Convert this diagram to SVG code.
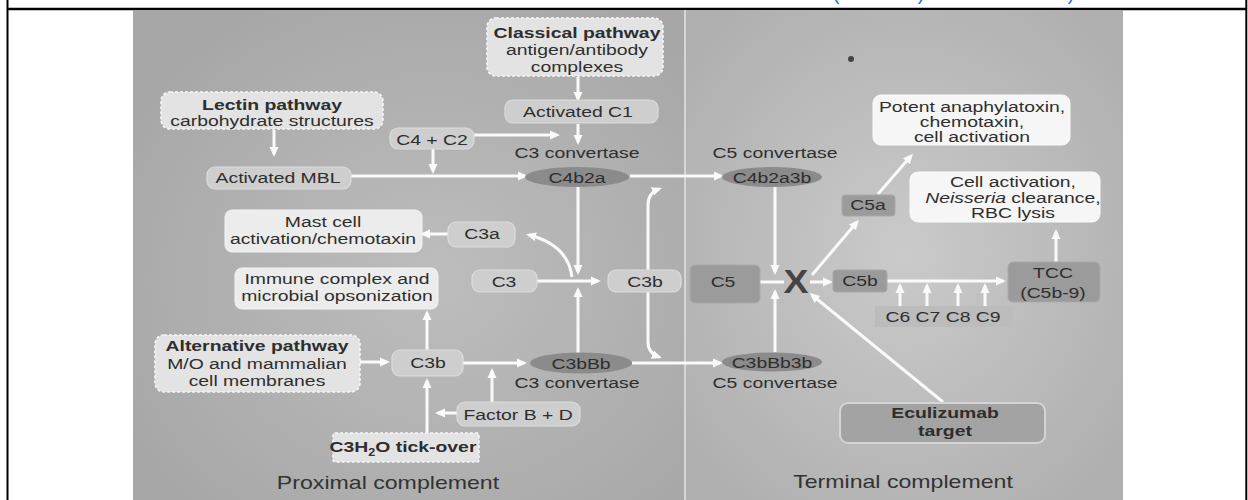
<svg xmlns="http://www.w3.org/2000/svg" width="1248" height="500" viewBox="0 0 1248 500">
<style>
text{font-family:"Liberation Sans",Arial,Helvetica,sans-serif;fill:#2e2e2e;font-size:15.5px;text-anchor:middle}
.b{font-weight:bold}
.big{font-size:18.5px;fill:#333}
.x{font-size:34px;font-weight:bold;fill:#444}
.dash{fill:#e3e3e3;stroke:#f6f6f6;stroke-width:1.6;stroke-dasharray:3 2}
.lt{fill:#cecece;stroke:#dcdcdc;stroke-width:1.2}
.wh{fill:#ececec;stroke:#f4f4f4;stroke-width:1}
.wh2{fill:#f6f6f6;stroke:#fafafa;stroke-width:1}
.dk{fill:#9b9b9b;stroke:#a9a9a9;stroke-width:1}
.mid{fill:#bcbcbc}
.ecu{fill:#a3a3a3;stroke:#d4d4d4;stroke-width:2}
.el{fill:#8b8b8b}
.c{fill:none;stroke:#fafafa;stroke-width:3}
.a{marker-end:url(#ah)}
.blue{fill:#2a6fd6;font-size:20px}
</style>
<defs>
<marker id="ah" viewBox="0 0 10 10" refX="7" refY="5" markerWidth="10" markerHeight="10" markerUnits="userSpaceOnUse" orient="auto-start-reverse">
<path d="M0,0.5 L10,5 L0,9.5 Z" fill="#fafafa"/>
</marker>
<radialGradient id="gl" cx="0.55" cy="0.55" r="0.65">
<stop offset="0" stop-color="#bdbdbd"/>
<stop offset="1" stop-color="#a7a7a7"/>
</radialGradient>
<radialGradient id="gr" cx="0.5" cy="0.5" r="0.65">
<stop offset="0" stop-color="#cacaca"/>
<stop offset="1" stop-color="#afafaf"/>
</radialGradient>
</defs>
<rect width="1248" height="500" fill="#ffffff"/>
<g id="frame">
<line x1="7.5" y1="0" x2="7.5" y2="500" stroke="#000" stroke-width="2"/>
<line x1="1246.3" y1="0" x2="1246.3" y2="500" stroke="#000" stroke-width="2"/>
<line x1="7" y1="9" x2="1247" y2="9" stroke="#000" stroke-width="2.5"/>
<text class="blue" x="836" y="0">(</text>
<text class="blue" x="921" y="0">)</text>
<text class="blue" x="1071" y="0">)</text>
</g>
<g id="panels">
<rect x="133" y="10" width="551" height="490" fill="url(#gl)"/>
<rect x="686" y="10" width="437" height="490" fill="url(#gr)"/>
<line x1="685" y1="10" x2="685" y2="500" stroke="#d6d6d6" stroke-width="2"/>
<circle cx="851" cy="59" r="3" fill="#444"/>
</g>
<g id="connectors">
<line class="c a" x1="578" y1="77" x2="578" y2="99"/>
<line class="c a" x1="578" y1="124" x2="578" y2="142"/>
<line class="c a" x1="474" y1="135" x2="557" y2="135"/>
<line class="c a" x1="433" y1="149" x2="433" y2="171"/>
<line class="c a" x1="274" y1="130" x2="274" y2="154"/>
<line class="c a" x1="351" y1="176" x2="525" y2="176"/>
<line class="c a" x1="630" y1="176" x2="721" y2="176"/>
<line class="c a" x1="578" y1="187" x2="578" y2="272"/>
<line class="c a" x1="578" y1="353" x2="578" y2="290"/>
<line class="c a" x1="537" y1="281" x2="598" y2="281"/>
<path class="c a" d="M572 277 Q568 245 529 235"/>
<line class="c a" x1="448" y1="234" x2="423" y2="234"/>
<path class="c a" d="M659 189 Q648 193 648 205 L648 342 Q648 353 659 357" style="marker-start:url(#ah)"/>
<line class="c" x1="760" y1="282" x2="784" y2="282"/>
<line class="c a" x1="775" y1="187" x2="775" y2="272"/>
<line class="c a" x1="775" y1="352" x2="775" y2="292"/>
<line class="c a" x1="810" y1="282" x2="830" y2="282"/>
<line class="c a" x1="887" y1="281" x2="1003" y2="281"/>
<line class="c a" x1="1056" y1="262" x2="1056" y2="232"/>
<line class="c a" x1="900" y1="306" x2="900" y2="286"/>
<line class="c a" x1="927" y1="306" x2="927" y2="286"/>
<line class="c a" x1="958" y1="306" x2="958" y2="286"/>
<line class="c a" x1="985" y1="306" x2="985" y2="286"/>
<line class="c a" x1="812" y1="275" x2="857" y2="222"/>
<line class="c a" x1="878" y1="194" x2="911" y2="156"/>
<line class="c a" x1="943" y1="402" x2="812" y2="295"/>
<line class="c a" x1="632" y1="363" x2="720" y2="363"/>
<line class="c a" x1="463" y1="363" x2="524" y2="363"/>
<line class="c a" x1="427" y1="350" x2="427" y2="313"/>
<line class="c a" x1="427" y1="433" x2="427" y2="381"/>
<line class="c a" x1="492" y1="402" x2="492" y2="371"/>
<line class="c a" x1="457" y1="413" x2="438" y2="413"/>
<line class="c a" x1="360" y1="362" x2="387" y2="362"/>
</g>
<g id="classical">
<rect class="dash" x="487" y="18" width="176" height="58" rx="9"/>
<text class="b" transform="matrix(1.25 0 0 1 577 37.5)">Classical pathway</text>
<text transform="matrix(1.25 0 0 1 577 55)">antigen/antibody</text>
<text transform="matrix(1.25 0 0 1 577 71.5)">complexes</text>
</g>
<g id="activated-c1">
<rect class="lt" x="505" y="100" width="153" height="23" rx="8"/>
<text transform="matrix(1.25 0 0 1 578 117)">Activated C1</text>
</g>
<g id="c4c2">
<rect class="lt" x="390" y="128" width="84" height="21" rx="8"/>
<text transform="matrix(1.25 0 0 1 432 145)">C4 + C2</text>
</g>
<g id="c4b2a">
<text transform="matrix(1.25 0 0 1 577 158)">C3 convertase</text>
<ellipse class="el" cx="577" cy="177" rx="52" ry="10"/>
<text transform="matrix(1.25 0 0 1 577 182.5)">C4b2a</text>
</g>
<g id="lectin">
<rect class="dash" x="161" y="92" width="222" height="37" rx="9"/>
<text class="b" transform="matrix(1.25 0 0 1 272 110)">Lectin pathway</text>
<text transform="matrix(1.25 0 0 1 272 126)">carbohydrate structures</text>
</g>
<g id="mbl">
<rect class="lt" x="207" y="167" width="144" height="22" rx="8"/>
<text transform="matrix(1.25 0 0 1 278 182.5)">Activated MBL</text>
</g>
<g id="c4b2a3b">
<text transform="matrix(1.25 0 0 1 775 158)">C5 convertase</text>
<ellipse class="el" cx="772" cy="177" rx="50" ry="10"/>
<text transform="matrix(1.25 0 0 1 772 182.5)">C4b2a3b</text>
</g>
<g id="potent">
<rect class="wh2" x="873" y="95" width="197" height="50" rx="8"/>
<text transform="matrix(1.25 0 0 1 972 112)">Potent anaphylatoxin,</text>
<text transform="matrix(1.25 0 0 1 972 127)">chemotaxin,</text>
<text transform="matrix(1.25 0 0 1 972 142)">cell activation</text>
</g>
<g id="cell-activation">
<rect class="wh2" x="910" y="172" width="190" height="50" rx="8"/>
<text transform="matrix(1.25 0 0 1 1013 187)">Cell activation,</text>
<text transform="matrix(1.25 0 0 1 1013 202.5)"><tspan font-style="italic">Neisseria</tspan> clearance,</text>
<text transform="matrix(1.25 0 0 1 1013 218)">RBC lysis</text>
</g>
<g id="c5a">
<rect class="dk" x="842" y="195" width="53" height="21" rx="3"/>
<text transform="matrix(1.25 0 0 1 868 210)">C5a</text>
</g>
<g id="mast">
<rect class="wh" x="225" y="210" width="197" height="42" rx="7"/>
<text transform="matrix(1.25 0 0 1 323 227)">Mast cell</text>
<text transform="matrix(1.25 0 0 1 323 244)">activation/chemotaxin</text>
</g>
<g id="c3a">
<rect class="lt" x="448" y="222" width="67" height="25" rx="8"/>
<text transform="matrix(1.25 0 0 1 482 239)">C3a</text>
</g>
<g id="immune">
<rect class="wh" x="235" y="268" width="203" height="41" rx="7"/>
<text transform="matrix(1.25 0 0 1 337 284)">Immune complex and</text>
<text transform="matrix(1.25 0 0 1 337 301)">microbial opsonization</text>
</g>
<g id="c3">
<rect class="lt" x="472" y="270" width="65" height="22" rx="8"/>
<text transform="matrix(1.25 0 0 1 504 287)">C3</text>
</g>
<g id="c3b-right">
<rect class="lt" x="608" y="270" width="73" height="22" rx="8"/>
<text transform="matrix(1.25 0 0 1 645 287)">C3b</text>
</g>
<g id="c5">
<rect class="dk" x="690" y="265" width="70" height="38" rx="5"/>
<text transform="matrix(1.25 0 0 1 723 287)">C5</text>
</g>
<g id="x-block">
<text class="x" transform="matrix(1.1 0 0 1 796 293)">X</text>
</g>
<g id="c5b">
<rect class="dk" x="833" y="270" width="54" height="22" rx="3"/>
<text transform="matrix(1.25 0 0 1 860 286)">C5b</text>
</g>
<g id="tcc">
<rect class="dk" x="1008" y="262" width="92" height="40" rx="5"/>
<text transform="matrix(1.25 0 0 1 1053 278)">TCC</text>
<text transform="matrix(1.25 0 0 1 1053 298)">(C5b-9)</text>
</g>
<g id="c6c9">
<rect class="mid" x="875" y="306" width="138" height="21"/>
<text transform="matrix(1.25 0 0 1 943 322)">C6 C7 C8 C9</text>
</g>
<g id="alternative">
<rect class="dash" x="155" y="335" width="205" height="57" rx="9"/>
<text class="b" transform="matrix(1.25 0 0 1 257 351)">Alternative pathway</text>
<text transform="matrix(1.25 0 0 1 257 368.5)">M/O and mammalian</text>
<text transform="matrix(1.25 0 0 1 257 386)">cell membranes</text>
</g>
<g id="c3b-left">
<rect class="lt" x="392" y="350" width="71" height="26" rx="8"/>
<text transform="matrix(1.25 0 0 1 428 368)">C3b</text>
</g>
<g id="c3bbb">
<ellipse class="el" cx="581" cy="363" rx="51" ry="10.5"/>
<text transform="matrix(1.25 0 0 1 581 368.5)">C3bBb</text>
<text transform="matrix(1.25 0 0 1 577 388)">C3 convertase</text>
</g>
<g id="c3bbb3b">
<ellipse class="el" cx="772" cy="362" rx="50" ry="9.5"/>
<text transform="matrix(1.25 0 0 1 772 367.5)">C3bBb3b</text>
<text transform="matrix(1.25 0 0 1 775 388)">C5 convertase</text>
</g>
<g id="factor-bd">
<rect class="lt" x="457" y="402" width="123" height="24" rx="8"/>
<text transform="matrix(1.25 0 0 1 518 419.5)">Factor B + D</text>
</g>
<g id="tickover">
<rect class="dash" x="333" y="433" width="146" height="29" rx="2"/>
<text class="b" transform="matrix(1.25 0 0 1 403 452)">C3H<tspan font-size="10px" dy="4">2</tspan><tspan dy="-4">O tick-over</tspan></text>
</g>
<g id="eculizumab">
<rect class="ecu" x="840" y="403" width="205" height="40" rx="8"/>
<text class="b" transform="matrix(1.25 0 0 1 945 418)">Eculizumab</text>
<text class="b" transform="matrix(1.25 0 0 1 945 436)">target</text>
</g>
<g id="labels">
<text class="big" transform="matrix(1.25 0 0 1 388 489)">Proximal complement</text>
<text class="big" transform="matrix(1.25 0 0 1 903 488)">Terminal complement</text>
</g>
</svg>
